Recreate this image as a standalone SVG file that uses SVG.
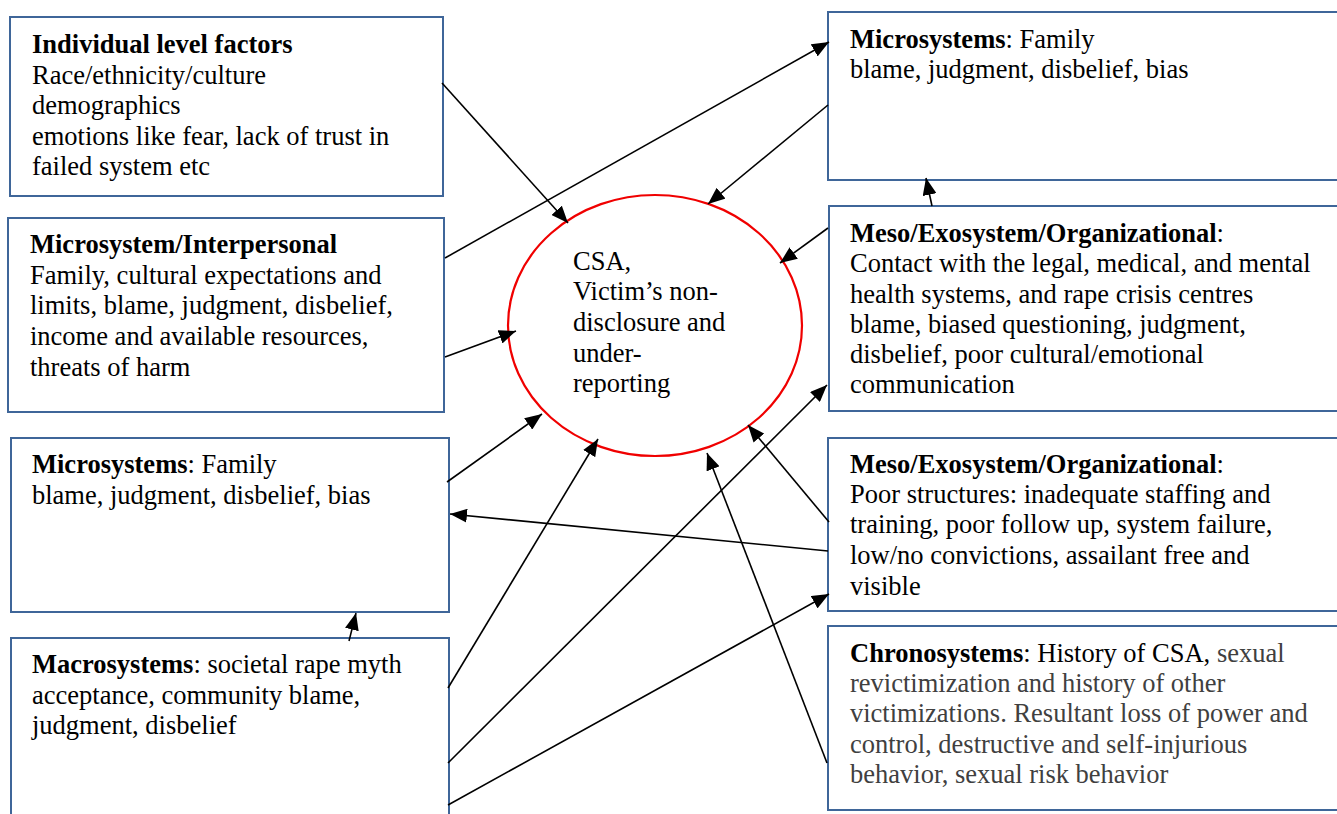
<svg xmlns="http://www.w3.org/2000/svg" width="1337" height="814" viewBox="0 0 1337 814">
<style>
.box{fill:#fff;stroke:#3F6699;stroke-width:2}
.t{font-family:'Liberation Serif','Times New Roman',serif;font-size:26.5px;fill:#000}
.b{font-weight:bold}
.g{fill:#404040}
.c{fill:none;stroke:#000;stroke-width:1.6}
</style>
<defs>
<marker id="ah" markerUnits="userSpaceOnUse" markerWidth="18" markerHeight="14" refX="17" refY="7" orient="auto">
<path d="M0,0 L17,7 L0,14 z" fill="#000"/>
</marker>
</defs>
<rect width="1337" height="814" fill="#fff"/>

<g font-family="'Liberation Serif', 'Times New Roman', serif">
<g id="n-individual">
<rect class="box" x="10" y="17" width="433" height="179"/>
<text class="t" x="32" y="53"><tspan class="b">Individual level factors</tspan><tspan x="32" y="83.5">Race/ethnicity/culture</tspan><tspan x="32" y="114">demographics</tspan><tspan x="32" y="144.5">emotions like fear, lack of trust in</tspan><tspan x="32" y="175">failed system etc</tspan></text>
</g>

<g id="n-interpersonal">
<rect class="box" x="8" y="218" width="436" height="194"/>
<text class="t" x="30" y="253"><tspan class="b">Microsystem/Interpersonal</tspan><tspan x="30" y="283.5">Family, cultural expectations and</tspan><tspan x="30" y="314">limits, blame, judgment, disbelief,</tspan><tspan x="30" y="345">income and available resources,</tspan><tspan x="30" y="376">threats of harm</tspan></text>
</g>

<g id="n-micro-left">
<rect class="box" x="11" y="438" width="438" height="174"/>
<text class="t" x="32" y="473"><tspan class="b">Microsystems</tspan>: Family<tspan x="32" y="504">blame, judgment, disbelief, bias</tspan></text>
</g>

<g id="n-macro">
<rect class="box" x="11" y="638" width="438" height="200"/>
<text class="t" x="32" y="673"><tspan class="b">Macrosystems</tspan>: societal rape myth<tspan x="32" y="704">acceptance, community blame,</tspan><tspan x="32" y="734">judgment, disbelief</tspan></text>
</g>

<g id="n-micro-right">
<rect class="box" x="828" y="12" width="520" height="168"/>
<text class="t" x="850" y="48"><tspan class="b">Microsystems</tspan>: Family<tspan x="850" y="78">blame, judgment, disbelief, bias</tspan></text>
</g>

<g id="n-meso1">
<rect class="box" x="829" y="206" width="520" height="205"/>
<text class="t" x="850" y="242"><tspan class="b">Meso/Exosystem/Organizational</tspan>:<tspan x="850" y="272">Contact with the legal, medical, and mental</tspan><tspan x="850" y="302.5">health systems, and rape crisis centres</tspan><tspan x="850" y="332.5">blame, biased questioning, judgment,</tspan><tspan x="850" y="362.5">disbelief, poor cultural/emotional</tspan><tspan x="850" y="392.5">communication</tspan></text>
</g>

<g id="n-meso2">
<rect class="box" x="828" y="438" width="520" height="173"/>
<text class="t" x="850" y="473"><tspan class="b">Meso/Exosystem/Organizational</tspan>:<tspan x="850" y="503">Poor structures: inadequate staffing and</tspan><tspan x="850" y="533">training, poor follow up, system failure,</tspan><tspan x="850" y="564">low/no convictions, assailant free and</tspan><tspan x="850" y="595">visible</tspan></text>
</g>

<g id="n-chrono">
<rect class="box" x="828" y="626" width="520" height="184"/>
<text class="t" x="850" y="662"><tspan class="b">Chronosystems</tspan>: History of CSA,<tspan class="g"> sexual</tspan><tspan class="g" x="850" y="692">revictimization and history of other</tspan><tspan class="g" x="850" y="722">victimizations. Resultant loss of power and</tspan><tspan class="g" x="850" y="753">control, destructive and self-injurious</tspan><tspan class="g" x="850" y="783">behavior, sexual risk behavior</tspan></text>
</g>

<g id="n-csa">
<ellipse cx="655" cy="325.5" rx="147" ry="130.5" fill="#fff" stroke="#F00000" stroke-width="2.2"/>
<text class="t" x="573" y="270">CSA,<tspan x="573" y="300">Victim’s non-</tspan><tspan x="573" y="331">disclosure and</tspan><tspan x="573" y="362">under-</tspan><tspan x="573" y="392">reporting</tspan></text>
</g>
</g>

<g id="connectors">
<line class="c" marker-end="url(#ah)" x1="442" y1="83" x2="568" y2="223"/>
<line class="c" marker-end="url(#ah)" x1="445" y1="258" x2="829" y2="42"/>
<line class="c" marker-end="url(#ah)" x1="828" y1="105" x2="708" y2="204"/>
<line class="c" marker-end="url(#ah)" x1="932" y1="206" x2="926" y2="178"/>
<line class="c" marker-end="url(#ah)" x1="828" y1="228" x2="780" y2="263"/>
<line class="c" marker-end="url(#ah)" x1="445" y1="357" x2="516" y2="331"/>
<line class="c" marker-end="url(#ah)" x1="447" y1="482" x2="542" y2="414"/>
<line class="c" marker-end="url(#ah)" x1="828" y1="551" x2="450" y2="514"/>
<line class="c" marker-end="url(#ah)" x1="448" y1="688" x2="598" y2="439"/>
<line class="c" marker-end="url(#ah)" x1="448" y1="763" x2="827" y2="385"/>
<line class="c" marker-end="url(#ah)" x1="448" y1="805" x2="829" y2="594"/>
<line class="c" marker-end="url(#ah)" x1="829" y1="522" x2="748" y2="425"/>
<line class="c" marker-end="url(#ah)" x1="827" y1="763" x2="707" y2="453"/>
<line class="c" marker-end="url(#ah)" x1="349" y1="641" x2="356" y2="613"/>
</g>
</svg>
